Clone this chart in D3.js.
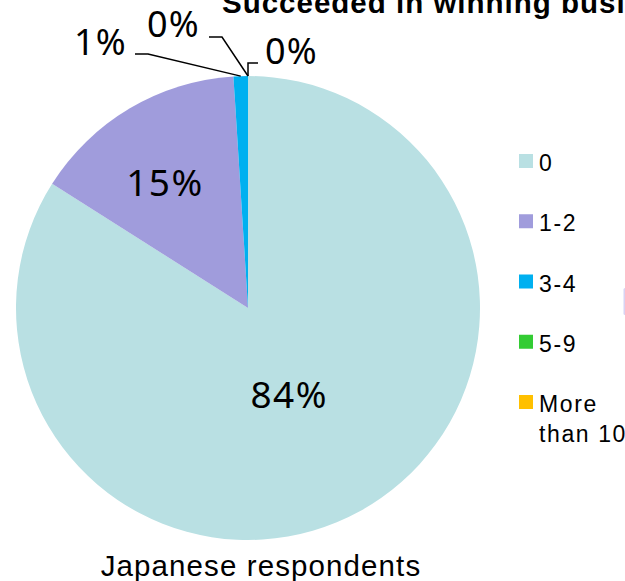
<!DOCTYPE html>
<html>
<head>
<meta charset="utf-8">
<script src="https://cdn.jsdelivr.net/npm/d3@7"></script>
<style>
  html, body { margin: 0; padding: 0; background: #fff; overflow: hidden; }
  svg { display: block; }
</style>
</head>
<body>
<svg id="chart" width="625" height="581"></svg>
<script>
// Number of deals won — share of Japanese respondents
const categories = ["0", "1-2", "3-4", "5-9", "More than 10"];
const shares = [84, 15, 1, 0, 0];
const sliceColors = ["#B9E0E3", "#A09CDC", "#00B0F0", "#33CC33", "#FFC000"];
const legendLines = [["0"], ["1-2"], ["3-4"], ["5-9"], ["More", "than 10"]];
const chartTitle = "Succeeded in winning business";
const groupLabel = "Japanese respondents";

const svg = d3.select("#chart");
const cx = 248, cy = 308, radius = 232;
const sansFont = "Liberation Sans, Arial, sans-serif";

// title, partly running off the top of the frame
svg.append("text")
  .attr("x", 222).attr("y", 12.5)
  .attr("font-family", sansFont)
  .attr("font-weight", "bold")
  .attr("font-size", 29.5)
  .attr("letter-spacing", 1)
  .attr("fill", "#000")
  .text(chartTitle);

const pie = d3.pie().sort(null).value(d => d.v).startAngle(0).endAngle(2 * Math.PI);
const arcs = pie(categories.map((c, i) => ({ c, v: shares[i], color: sliceColors[i] })));
const arc = d3.arc().innerRadius(0).outerRadius(radius);

const g = svg.append("g").attr("transform", `translate(${cx},${cy})`);
g.selectAll("path.slice")
  .data(arcs)
  .join("path")
  .attr("class", "slice")
  .attr("d", arc)
  .attr("fill", d => d.data.color);

const fmt = v => d3.format(".0f")(v) + "%";
const labelFont = "Noto Sans, DejaVu Sans, sans-serif";

// labels inside the two large slices: along the mid-angle, then nudged
const inside = {
  "0":   { ratio: 0.40, dx: -3.5, dy: 4 },
  "1-2": { ratio: 0.64, dx: -7.5, dy: 1.5 }
};
arcs.filter(d => inside[d.data.c]).forEach(d => {
  const o = inside[d.data.c];
  const r = radius * o.ratio;
  const mid = (d.startAngle + d.endAngle) / 2;
  g.append("text")
    .attr("x", r * Math.sin(mid) + o.dx)
    .attr("y", -r * Math.cos(mid) + o.dy)
    .attr("text-anchor", "middle")
    .attr("dominant-baseline", "central")
    .attr("font-family", labelFont)
    .attr("font-size", 37)
    .attr("letter-spacing", 1.5)
    .attr("fill", "#000")
    .text(fmt(d.data.v));
});

// callout labels for the thin slices near the top, with leader lines
// offsets are relative to the pie centre: label anchor and leader elbow
const callouts = {
  "3-4": { tx: -121, ty: -253, anchor: "end", elbow: [[-113, -254], [-100, -254]] },
  "5-9": { tx: -48, ty: -271, anchor: "end", elbow: [[-39, -271], [-26, -271]] },
  "More than 10": { tx: 17, ty: -244, anchor: "start", elbow: [[0, -245], [10, -245]] }
};
arcs.filter(d => callouts[d.data.c]).forEach(d => {
  const c = callouts[d.data.c];
  const mid = (d.startAngle + d.endAngle) / 2;
  const px = radius * Math.sin(mid), py = -radius * Math.cos(mid);
  const pts = [[px, py]];
  if (c.anchor === "start") {
    pts.push(c.elbow[0], c.elbow[1]);
  } else {
    pts.push(c.elbow[1], c.elbow[0]);
  }
  g.append("path")
    .attr("d", d3.line()(pts))
    .attr("fill", "none")
    .attr("stroke", "#000")
    .attr("stroke-width", 1.5);
  g.append("text")
    .attr("x", c.tx).attr("y", c.ty)
    .attr("text-anchor", c.anchor)
    .attr("font-family", labelFont)
    .attr("font-size", 36)
    .attr("letter-spacing", 1.2)
    .attr("fill", "#000")
    .text(fmt(d.data.v));
});

// category label beneath the pie
svg.append("text")
  .attr("x", 261).attr("y", 576)
  .attr("text-anchor", "middle")
  .attr("font-family", sansFont)
  .attr("font-size", 29.5)
  .attr("letter-spacing", 1.1)
  .attr("fill", "#000")
  .text(groupLabel);

// legend
const legendY = d3.scalePoint().domain(categories).range([161, 402]);
const legend = svg.append("g");
categories.forEach((c, i) => {
  const y = legendY(c);
  legend.append("rect")
    .attr("x", 519).attr("y", y - 7)
    .attr("width", 14).attr("height", 14)
    .attr("fill", sliceColors[i]);
  const t = legend.append("text")
    .attr("font-family", sansFont)
    .attr("font-size", 23)
    .attr("letter-spacing", 1.6)
    .attr("fill", "#000");
  legendLines[i].forEach((line, j) => {
    t.append("tspan")
      .attr("x", 539)
      .attr("y", y + 10 + j * 30)
      .text(line);
  });
});

// edge of the neighbouring panel peeking in at the right border
svg.append("rect")
  .attr("x", 623.5).attr("y", 288)
  .attr("width", 3).attr("height", 27)
  .attr("rx", 1.5)
  .attr("fill", "#D8D3F3");
</script>
</body>
</html>
